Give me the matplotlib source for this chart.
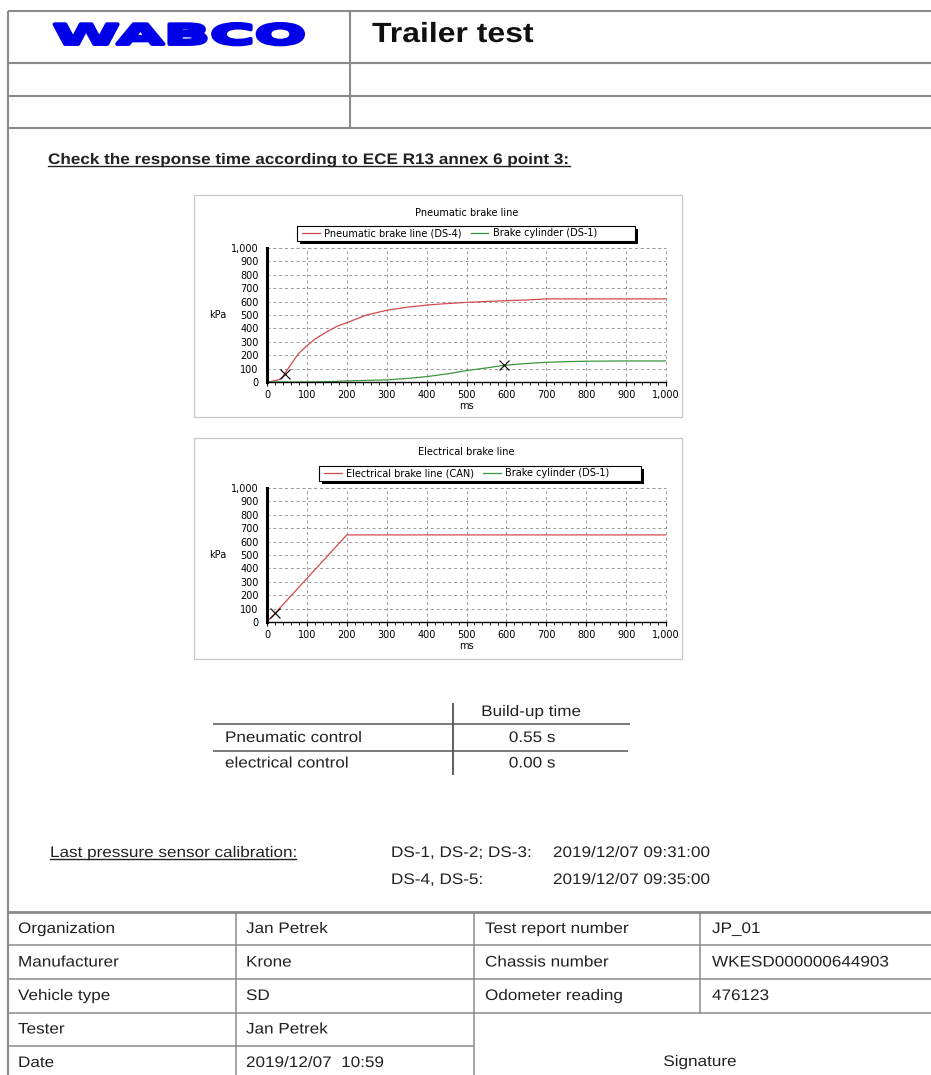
import matplotlib
matplotlib.use("Agg")
import matplotlib.pyplot as plt
import matplotlib.patheffects as pe
from matplotlib.patches import Rectangle
from matplotlib.ticker import MultipleLocator, FuncFormatter
from matplotlib.transforms import Affine2D

# -----------------------------------------------------------------
# DADOS
# -----------------------------------------------------------------
# Linha pneumática (DS-4) e cilindro de freio (DS-1) [ms, kPa]
pneu_t = [0, 10, 20, 30, 38, 44, 50, 60, 70, 80, 100, 120, 150, 175, 200,
          250, 300, 350, 400, 450, 500, 550, 600, 650, 700, 800, 900, 1000]
pneu_p = [0, 4, 10, 18, 35, 62, 88, 130, 175, 215, 270, 320, 375, 415, 443,
          500, 535, 558, 574, 585, 594, 601, 607, 612, 620, 620, 620, 620]
cyl_t = [0, 100, 150, 200, 250, 300, 350, 400, 450, 500, 550, 593, 650, 700,
         750, 800, 900, 1000]
cyl_p = [0, 0, 2, 8, 12, 16, 26, 40, 60, 85, 105, 124, 138, 147, 152, 155,
         157, 157]
pneu_mark = (44, 62)
cyl_mark = (593, 124)

# Linha elétrica (CAN)
elec_t = [0, 200, 1000]
elec_p = [0, 650, 650]
elec_mark = (20, 65)

# Tempos de resposta
controles = ["Pneumatic control", "electrical control"]
tempos = ["0.55 s", "0.00 s"]

# Calibração dos sensores
calib_sensores = ["DS-1, DS-2; DS-3:", "DS-4, DS-5:"]
calib_datas = ["2019/12/07 09:31:00", "2019/12/07 09:35:00"]

# Dados do relatório
campos_esq = ["Organization", "Manufacturer", "Vehicle type", "Tester", "Date"]
valores_esq = ["Jan Petrek", "Krone", "SD", "Jan Petrek", "2019/12/07  10:59"]
campos_dir = ["Test report number", "Chassis number", "Odometer reading"]
valores_dir = ["JP_01", "WKESD000000644903", "476123"]

# -----------------------------------------------------------------
# FOLHA
# -----------------------------------------------------------------
W, H = 931, 1075
fig = plt.figure(figsize=(W / 100, H / 100), dpi=100)
fig.patch.set_facecolor("white")

doc = fig.add_axes([0, 0, 1, 1])
doc.set_xlim(0, W)
doc.set_ylim(H, 0)
doc.axis("off")

FONT = "Liberation Sans"
TXT = "#222222"
LINHA = "#8a8a8a"
SX = 1.12  # largura do texto do relatório


class Estica(pe.AbstractPathEffect):
    """Estica o texto na horizontal (em torno de cx) e opcionalmente engrossa."""

    def __init__(self, sx, cx, lw=None):
        super().__init__()
        self.sx, self.cx, self.lw = sx, cx, lw

    def draw_path(self, renderer, gc, tpath, affine, rgbFace=None):
        cx = self.cx * fig.dpi / 100
        t = Affine2D().translate(-cx, 0).scale(self.sx, 1).translate(cx, 0)
        gc0 = renderer.new_gc()
        gc0.copy_properties(gc)
        if self.lw is not None:
            gc0.set_linewidth(self.lw)
            gc0.set_foreground(rgbFace)
        renderer.draw_path(gc0, tpath, affine + t, rgbFace)
        gc0.restore()


def texto(x, y, s, ha="left", size=11, weight="normal", sx=SX, color=TXT):
    return doc.text(x, y, s, ha=ha, va="center", fontsize=size,
                    fontweight=weight, family=FONT, color=color,
                    path_effects=[Estica(sx, x)])


def hline(y, x0, x1, lw=1.1, color=LINHA):
    doc.plot([x0, x1], [y, y], color=color, lw=lw, solid_capstyle="butt")


def vline(x, y0, y1, lw=1.1, color=LINHA):
    doc.plot([x, x], [y0, y1], color=color, lw=lw, solid_capstyle="butt")


# Cabeçalho
hline(11, 8, W, lw=1.5)
hline(63, 8, W, lw=1.5)
hline(96, 8, W, lw=1.5)
hline(128, 8, W, lw=1.5)
vline(350, 11, 128, lw=1.5)
vline(8, 11, H, lw=1.5)

doc.text(179.5, 44, "WABCO", ha="center", va="baseline", fontsize=19.5,
         fontweight="bold", family="DejaVu Sans", color="#0000e8",
         path_effects=[Estica(2.24, 179.5, 2.8)])
doc.text(372, 42, "Trailer test", ha="left", va="baseline", fontsize=20,
         fontweight="bold", family=FONT, color="#111111",
         path_effects=[Estica(1.15, 372)])

titulo = texto(48, 160, "Check the response time according to ECE R13 annex 6 point 3:",
               weight="bold")

# Molduras dos gráficos
for y0, y1 in [(195, 417), (438, 659)]:
    doc.add_patch(Rectangle((194, y0), 488, y1 - y0, fill=False,
                            edgecolor="#c8c8c8", lw=0.9))


def grafico(box, titulo_g, leg_box, series, marcas):
    x0, y0, x1, y1 = box
    ax = fig.add_axes([x0 / W, 1 - y1 / H, (x1 - x0) / W, (y1 - y0) / H])
    ax.set_facecolor("none")
    for t, p, cor, rot in series:
        ax.plot(t, p, color=cor, lw=0.9, label=rot)
    for mx, my in marcas:
        ax.plot(mx, my, marker="x", ms=7, mew=0.8, color="black")
    ax.set_xlim(0, 1000)
    ax.set_ylim(0, 1000)
    ax.xaxis.set_major_locator(MultipleLocator(100))
    ax.xaxis.set_minor_locator(MultipleLocator(20))
    ax.yaxis.set_major_locator(MultipleLocator(100))
    fmt = FuncFormatter(lambda v, pos: f"{int(v):,}")
    ax.xaxis.set_major_formatter(fmt)
    ax.yaxis.set_major_formatter(fmt)
    ax.tick_params(axis="x", which="major", length=3, width=0.8, pad=2.5,
                   labelsize=7, labelfontfamily="DejaVu Sans")
    ax.tick_params(axis="x", which="minor", length=2, width=0.6)
    ax.tick_params(axis="y", length=0, pad=6, labelsize=7,
                   labelfontfamily="DejaVu Sans")
    for s in ["top", "right"]:
        ax.spines[s].set_visible(False)
    ax.spines["left"].set_linewidth(2.2)
    ax.spines["bottom"].set_linewidth(1.0)
    ax.grid(True, color="#9a9a9a", lw=0.7, linestyle=(0, (3, 3)))
    ax.set_axisbelow(True)
    # grade nas bordas superior e direita
    ax.axhline(1000, color="#9a9a9a", lw=0.7, linestyle=(0, (3, 3)), clip_on=False)
    ax.axvline(1000, color="#9a9a9a", lw=0.7, linestyle=(0, (3, 3)), clip_on=False)

    ax.set_ylabel("kPa", rotation=0, fontsize=7, family="DejaVu Sans",
                  va="center", ha="center")
    ax.yaxis.set_label_coords((218 - x0) / (x1 - x0), 0.5)
    ax.set_xlabel("ms", fontsize=7, family="DejaVu Sans", va="center")
    ax.xaxis.set_label_coords(0.5, -24 / (y1 - y0))
    ax.text(0.5, (y1 - titulo_g[1]) / (y1 - y0), titulo_g[0], transform=ax.transAxes,
            ha="center", va="center", fontsize=7, family="DejaVu Sans")

    # caixa da legenda com sombra
    lx0, lx1, ly0, ly1 = leg_box
    doc.add_patch(Rectangle((lx0 + 3, ly0 + 3), lx1 - lx0, ly1 - ly0,
                            facecolor="black", edgecolor="none", zorder=1))
    doc.add_patch(Rectangle((lx0, ly0), lx1 - lx0, ly1 - ly0,
                            facecolor="white", edgecolor="black", lw=0.8, zorder=2))
    ax.legend(loc="center left", bbox_to_anchor=((lx0 + 5) / W, 1 - (ly0 + ly1) / 2 / H),
              bbox_transform=fig.transFigure, ncol=2, frameon=False,
              handlelength=1.8, handletextpad=0.5, columnspacing=0.9,
              borderpad=0, borderaxespad=0,
              prop={"family": "DejaVu Sans", "size": 7})
    return ax


VERM = "#d24a4a"
VERDE = "#3c963c"

grafico((267, 248, 666, 382), ("Pneumatic brake line", 213), (297, 635, 226, 241),
        [(pneu_t, pneu_p, VERM, "Pneumatic brake line (DS-4)"),
         (cyl_t, cyl_p, VERDE, "Brake cylinder (DS-1)")],
        [pneu_mark, cyl_mark])

grafico((267, 488, 666, 622), ("Electrical brake line", 452), (319, 641, 466, 481),
        [(elec_t, elec_p, VERM, "Electrical brake line (CAN)"),
         ([], [], VERDE, "Brake cylinder (DS-1)")],
        [elec_mark])

# Tabela de tempo de resposta
vline(453, 703, 775, lw=1.1, color="#333333")
hline(724, 213, 630, lw=1.1, color="#555555")
hline(751, 213, 628, lw=1.1, color="#555555")
texto(531, 712, "Build-up time", ha="center")
for i, (c, t) in enumerate(zip(controles, tempos)):
    y = 738 + i * 25.5
    texto(225, y, c)
    texto(532, y, t, ha="center")

# Calibração
calib = texto(50, 853, "Last pressure sensor calibration:")
for i, (s, d) in enumerate(zip(calib_sensores, calib_datas)):
    y = 853 + i * 27
    texto(391, y, s)
    texto(553, y, d)

# Tabela de identificação
hline(912, 8, W, lw=2.0)
for y in [945, 979, 1013]:
    hline(y, 8, W)
hline(1046, 8, 474)
vline(236, 912, H)
vline(474, 912, H)
vline(700, 912, 1013)
for i, (c, v) in enumerate(zip(campos_esq, valores_esq)):
    y = 929 + i * 33.5
    texto(18, y, c)
    texto(246, y, v)
for i, (c, v) in enumerate(zip(campos_dir, valores_dir)):
    y = 929 + i * 33.5
    texto(485, y, c)
    texto(712, y, v)
texto(700, 1062, "Signature", ha="center")

# Sublinhados
fig.canvas.draw()
r = fig.canvas.get_renderer()
inv = doc.transData.inverted()
for txt in [titulo, calib]:
    bb = txt.get_window_extent(r)
    (xa, ya), (xb, yb) = inv.transform([(bb.x0, bb.y0), (bb.x1, bb.y1)])
    xb = xa + (xb - xa) * SX
    doc.plot([xa, xb], [ya - 1, ya - 1], color=TXT, lw=1.0)

fig.savefig("out.png", dpi=100, facecolor="white")
